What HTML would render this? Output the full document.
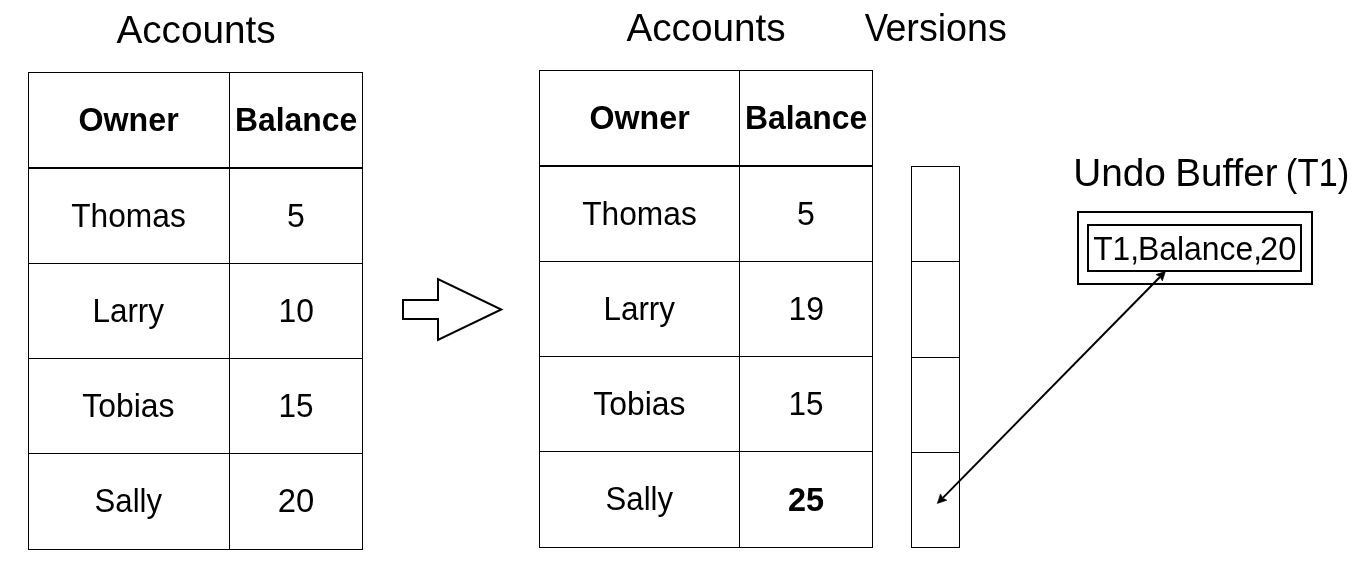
<!DOCTYPE html>
<html><head><meta charset="utf-8"><style>
html,body{margin:0;padding:0;background:#fff;width:1358px;height:570px;overflow:hidden}
svg{display:block;will-change:transform}
text{font-family:"Liberation Sans",sans-serif;fill:#000}
.t{font-size:39px}
.c{font-size:33px}
.b{font-weight:bold}
</style></head><body>
<svg width="1358" height="570" viewBox="0 0 1358 570">
<g fill="none" stroke="#000" stroke-width="1">
<!-- left table -->
<rect x="28.5" y="72.5" width="334" height="477"/>
<line x1="229.5" y1="72.5" x2="229.5" y2="549.5"/>
<line x1="28" y1="168" x2="363" y2="168" stroke-width="2"/>
<line x1="28" y1="263.5" x2="363" y2="263.5"/>
<line x1="28" y1="358.5" x2="363" y2="358.5"/>
<line x1="28" y1="453.5" x2="363" y2="453.5"/>
<!-- right table -->
<rect x="539.5" y="70.5" width="333" height="477"/>
<line x1="739.5" y1="70.5" x2="739.5" y2="547.5"/>
<line x1="539" y1="166" x2="873" y2="166" stroke-width="2"/>
<line x1="539" y1="261.5" x2="873" y2="261.5"/>
<line x1="539" y1="356.5" x2="873" y2="356.5"/>
<line x1="539" y1="451.5" x2="873" y2="451.5"/>
<!-- versions -->
<rect x="911.5" y="166.5" width="48" height="381"/>
<line x1="911" y1="261.5" x2="960" y2="261.5"/>
<line x1="911" y1="357.5" x2="960" y2="357.5"/>
<line x1="911" y1="452.5" x2="960" y2="452.5"/>
<!-- undo buffer -->
<rect x="1078" y="212" width="234" height="72" stroke-width="2"/>
<rect x="1088" y="225" width="213" height="46" stroke-width="2"/>
<!-- block arrow -->
<path d="M403 300 L438 300 L438 279 L501.3 309.5 L438 340 L438 319 L403 319 Z" stroke-width="2" stroke-miterlimit="10"/>
<!-- connector -->
<line x1="1159.93" y1="276.97" x2="942.87" y2="497.83" stroke-width="2"/>
</g>
<g fill="#000" stroke="#000" stroke-width="0.6" stroke-linejoin="round" stroke-miterlimit="10">
<path d="M1165.46 271.34 L1162.36 280.92 L1160.10 276.80 L1155.94 274.61 Z"/>
<path d="M937.34 503.46 L940.44 493.88 L942.70 498.00 L946.86 500.19 Z"/>
</g>
<!-- TEXT -->
<text class="t" x="116.42" y="42.9" textLength="159.27" lengthAdjust="spacingAndGlyphs">Accounts</text>
<text class="t" x="626.42" y="40.9" textLength="159.27" lengthAdjust="spacingAndGlyphs">Accounts</text>
<text class="t" x="864.75" y="40.9" textLength="23.31" lengthAdjust="spacingAndGlyphs">V</text>
<text class="t" x="885.40" y="40.9" textLength="121.46" lengthAdjust="spacingAndGlyphs">ersions</text>
<text class="t" x="1073.21" y="185.9" textLength="92.72" lengthAdjust="spacingAndGlyphs">Undo</text>
<text class="t" x="1175.36" y="185.9" textLength="102.18" lengthAdjust="spacingAndGlyphs">Buffer</text>
<text class="t" x="1285.85" y="185.9" textLength="63.50" lengthAdjust="spacingAndGlyphs">(T1)</text>
<text class="c b" x="78.58" y="131.0" textLength="100.11" lengthAdjust="spacingAndGlyphs">Owner</text>
<text class="c b" x="234.97" y="131.0" textLength="122.22" lengthAdjust="spacingAndGlyphs">Balance</text>
<text class="c" x="71.19" y="227.4" textLength="114.56" lengthAdjust="spacingAndGlyphs">Thomas</text>
<text class="c" x="286.92" y="227.4" textLength="17.83" lengthAdjust="spacingAndGlyphs">5</text>
<text class="c" x="92.42" y="322.2" textLength="71.64" lengthAdjust="spacingAndGlyphs">Larry</text>
<text class="c" x="278.57" y="322.2" textLength="35.48" lengthAdjust="spacingAndGlyphs">10</text>
<text class="c" x="82.31" y="417.1" textLength="92.20" lengthAdjust="spacingAndGlyphs">Tobias</text>
<text class="c" x="278.60" y="417.2" textLength="35.02" lengthAdjust="spacingAndGlyphs">15</text>
<text class="c" x="94.59" y="512.1" textLength="67.47" lengthAdjust="spacingAndGlyphs">Sally</text>
<text class="c" x="277.65" y="512.2" textLength="36.53" lengthAdjust="spacingAndGlyphs">20</text>
<text class="c b" x="589.58" y="128.8" textLength="100.11" lengthAdjust="spacingAndGlyphs">Owner</text>
<text class="c b" x="744.97" y="128.8" textLength="122.22" lengthAdjust="spacingAndGlyphs">Balance</text>
<text class="c" x="582.19" y="225.2" textLength="114.56" lengthAdjust="spacingAndGlyphs">Thomas</text>
<text class="c" x="796.92" y="225.2" textLength="17.83" lengthAdjust="spacingAndGlyphs">5</text>
<text class="c" x="603.42" y="320.0" textLength="71.64" lengthAdjust="spacingAndGlyphs">Larry</text>
<text class="c" x="788.56" y="320.1" textLength="35.66" lengthAdjust="spacingAndGlyphs">19</text>
<text class="c" x="593.31" y="414.9" textLength="92.20" lengthAdjust="spacingAndGlyphs">Tobias</text>
<text class="c" x="788.60" y="415.0" textLength="35.02" lengthAdjust="spacingAndGlyphs">15</text>
<text class="c" x="605.59" y="509.9" textLength="67.47" lengthAdjust="spacingAndGlyphs">Sally</text>
<text class="c b" x="787.97" y="510.6" textLength="36.13" lengthAdjust="spacingAndGlyphs">25</text>
<text class="c" x="1093.19" y="259.8" textLength="45.87" lengthAdjust="spacingAndGlyphs">T1,</text>
<text class="c" x="1137.98" y="259.8" textLength="124.18" lengthAdjust="spacingAndGlyphs">Balance,</text>
<text class="c" x="1260.06" y="259.8" textLength="36.32" lengthAdjust="spacingAndGlyphs">20</text>
</svg>
</body></html>
